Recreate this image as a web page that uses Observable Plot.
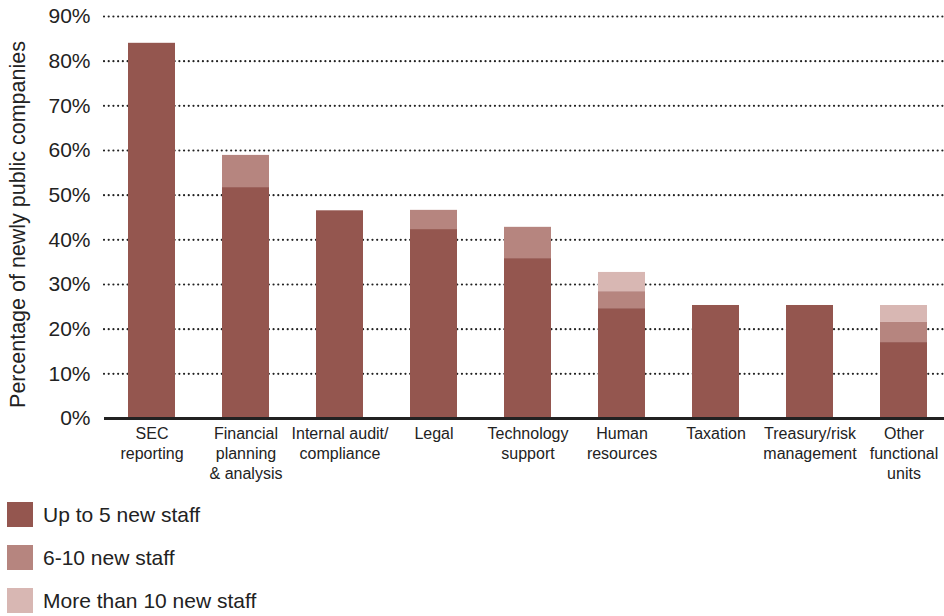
<!DOCTYPE html>
<html>
<head>
<meta charset="utf-8">
<script src="https://cdn.jsdelivr.net/npm/d3@7"></script>
<script src="https://cdn.jsdelivr.net/npm/@observablehq/plot@0.6"></script>
<style>
  body { margin: 0; background: #fff; font-family: "Liberation Sans", Arial, Helvetica, sans-serif; }
  #chart svg { display: block; }
  .legend { margin: 0; padding: 3px 0 0 0; }
  .item { display: flex; align-items: center; height: 43px; }
  .sw { width: 26px; height: 25px; margin-left: 7px; margin-right: 10px; }
  .lab { font-size: 21px; color: #222; }
</style>
</head>
<body>
<div id="chart"></div>
<div class="legend" id="legend"></div>
<script>
const categories = ["SEC\nreporting", "Financial\nplanning\n& analysis", "Internal audit/\ncompliance", "Legal", "Technology\nsupport", "Human\nresources", "Taxation", "Treasury/risk\nmanagement", "Other\nfunctional\nunits"];
const seriesNames = ["Up to 5 new staff", "6-10 new staff", "More than 10 new staff"];
const upTo5 = [84, 51.7, 46.5, 42.3, 35.8, 24.6, 25.3, 25.3, 17.0];
const sixTo10 = [0, 7.2, 0, 4.3, 7.0, 3.8, 0, 0, 4.5];
const moreThan10 = [0, 0, 0, 0, 0, 4.3, 0, 0, 3.8];
const colors = ["#94564f", "#b6857f", "#d8b7b3"];
const yTicks = [0, 10, 20, 30, 40, 50, 60, 70, 80, 90];
const yTitle = "Percentage of newly public companies";

const seriesValues = [upTo5, sixTo10, moreThan10];
const table = [];
seriesValues.forEach((vals, s) => {
  vals.forEach((v, i) => table.push({cat: categories[i], series: seriesNames[s], value: v}));
});

const W = 944, H = 490;
const chart = Plot.plot({
  width: W,
  height: H,
  marginLeft: 104,
  marginRight: 0,
  marginTop: 16,
  marginBottom: 72,
  style: {fontFamily: '"Liberation Sans", Arial, Helvetica, sans-serif', color: "#222", background: "#fff"},
  x: {domain: categories, range: [104.5, 950.5], paddingInner: 0.5, paddingOuter: 0.25, align: 0.5},
  y: {domain: [0, 90]},
  color: {domain: seriesNames, range: colors},
  marks: [
    Plot.ruleY(yTicks.filter(d => d > 0), {stroke: "#222", strokeWidth: 2.2, strokeDasharray: "0.01,4.7", strokeLinecap: "round"}),
    Plot.barY(table, {x: "cat", y: "value", fill: "series", order: seriesNames}),
    Plot.ruleY([0], {stroke: "#222", strokeWidth: 3}),
    Plot.axisY({ticks: yTicks, tickSize: 0, tickPadding: 14, fontSize: 21, tickFormat: d => d + "%", label: null}),
    Plot.axisX({tickSize: 0, tickPadding: 6, fontSize: 16, lineHeight: 1.25, label: null}),
    Plot.text([yTitle], {text: d => d, frameAnchor: "left", rotate: -90, dx: -86, dy: 7, fontSize: 21.5, fill: "#222", textAnchor: "middle", lineAnchor: "middle"})
  ]
});
document.getElementById("chart").appendChild(chart);

const legend = document.getElementById("legend");
seriesNames.forEach((name, i) => {
  const item = document.createElement("div");
  item.className = "item";
  const sw = document.createElement("div");
  sw.className = "sw";
  sw.style.background = colors[i];
  const lab = document.createElement("span");
  lab.className = "lab";
  lab.textContent = name;
  item.appendChild(sw);
  item.appendChild(lab);
  legend.appendChild(item);
});
</script>
</body>
</html>
